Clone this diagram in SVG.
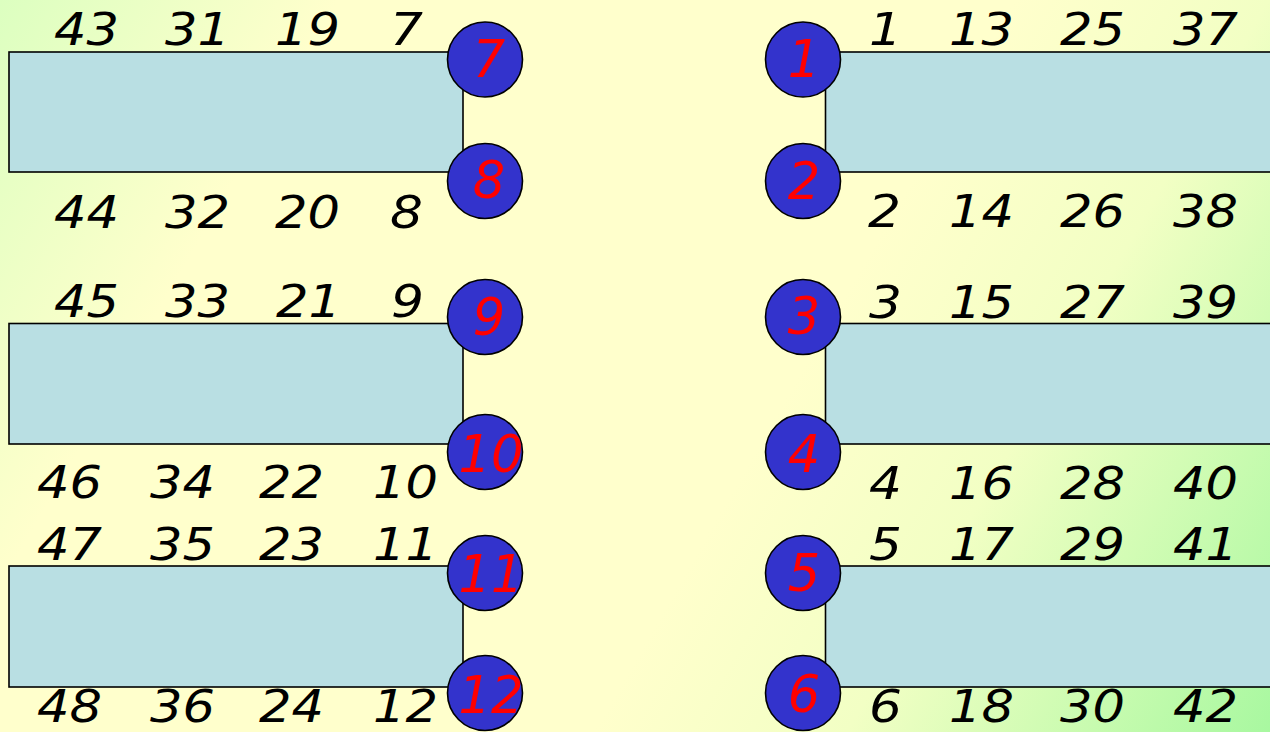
<svg xmlns="http://www.w3.org/2000/svg" width="1270" height="732" viewBox="0 0 1270 732">
<defs>
<linearGradient id="bg" gradientUnits="userSpaceOnUse" x1="0" y1="0" x2="1270" y2="732">
<stop offset="0" stop-color="#dcffc0"/>
<stop offset="0.2" stop-color="#ffffcc"/>
<stop offset="0.6" stop-color="#ffffcc"/>
<stop offset="0.75" stop-color="#f2ffc4"/>
<stop offset="1" stop-color="#a8f8a0"/>
</linearGradient>
<style>
.bar{fill:#b9dfe3;stroke:#000;stroke-width:1.6}
.pin{fill:#3333cc;stroke:#000;stroke-width:1.6}
.num{font-family:"DejaVu Sans","Verdana",sans-serif;font-style:italic;font-size:45px;fill:#000}
.pn{font-family:"DejaVu Sans","Verdana",sans-serif;font-style:italic;font-size:51px;fill:#ff0000;text-anchor:middle}
</style>
</defs>
<rect x="0" y="0" width="1270" height="732" fill="url(#bg)"/>

<g id="bar-left-1">
<rect class="bar" x="9" y="52" width="454" height="120"/>
<text class="num" x="54" y="45" textLength="65" lengthAdjust="spacingAndGlyphs">43</text><text class="num" x="165" y="45" textLength="65" lengthAdjust="spacingAndGlyphs">31</text><text class="num" x="275" y="45" textLength="65" lengthAdjust="spacingAndGlyphs">19</text><text class="num" x="390" y="45" textLength="33" lengthAdjust="spacingAndGlyphs">7</text>
<text class="num" x="54" y="228" textLength="65" lengthAdjust="spacingAndGlyphs">44</text><text class="num" x="165" y="228" textLength="65" lengthAdjust="spacingAndGlyphs">32</text><text class="num" x="275" y="228" textLength="65" lengthAdjust="spacingAndGlyphs">20</text><text class="num" x="390" y="228" textLength="33" lengthAdjust="spacingAndGlyphs">8</text>
</g>
<g id="bar-left-2">
<rect class="bar" x="9" y="323.5" width="454" height="120.5"/>
<text class="num" x="54" y="317" textLength="65" lengthAdjust="spacingAndGlyphs">45</text><text class="num" x="165" y="317" textLength="65" lengthAdjust="spacingAndGlyphs">33</text><text class="num" x="276" y="317" textLength="65" lengthAdjust="spacingAndGlyphs">21</text><text class="num" x="391" y="317" textLength="33" lengthAdjust="spacingAndGlyphs">9</text>
<text class="num" x="37" y="498" textLength="65" lengthAdjust="spacingAndGlyphs">46</text><text class="num" x="150" y="498" textLength="65" lengthAdjust="spacingAndGlyphs">34</text><text class="num" x="259" y="498" textLength="65" lengthAdjust="spacingAndGlyphs">22</text><text class="num" x="373" y="498" textLength="65" lengthAdjust="spacingAndGlyphs">10</text>
</g>
<g id="bar-left-3">
<rect class="bar" x="9" y="566" width="454" height="121"/>
<text class="num" x="37" y="560" textLength="65" lengthAdjust="spacingAndGlyphs">47</text><text class="num" x="150" y="560" textLength="65" lengthAdjust="spacingAndGlyphs">35</text><text class="num" x="259" y="560" textLength="65" lengthAdjust="spacingAndGlyphs">23</text><text class="num" x="373" y="560" textLength="65" lengthAdjust="spacingAndGlyphs">11</text>
<text class="num" x="37" y="722" textLength="65" lengthAdjust="spacingAndGlyphs">48</text><text class="num" x="150" y="722" textLength="65" lengthAdjust="spacingAndGlyphs">36</text><text class="num" x="259" y="722" textLength="65" lengthAdjust="spacingAndGlyphs">24</text><text class="num" x="373" y="722" textLength="65" lengthAdjust="spacingAndGlyphs">12</text>
</g>
<g id="bar-right-1">
<rect class="bar" x="825.5" y="52" width="460" height="120"/>
<text class="num" x="869" y="45" textLength="33" lengthAdjust="spacingAndGlyphs">1</text><text class="num" x="949" y="45" textLength="65" lengthAdjust="spacingAndGlyphs">13</text><text class="num" x="1060" y="45" textLength="65" lengthAdjust="spacingAndGlyphs">25</text><text class="num" x="1173" y="45" textLength="65" lengthAdjust="spacingAndGlyphs">37</text>
<text class="num" x="868" y="227" textLength="33" lengthAdjust="spacingAndGlyphs">2</text><text class="num" x="949" y="227" textLength="65" lengthAdjust="spacingAndGlyphs">14</text><text class="num" x="1060" y="227" textLength="65" lengthAdjust="spacingAndGlyphs">26</text><text class="num" x="1173" y="227" textLength="65" lengthAdjust="spacingAndGlyphs">38</text>
</g>
<g id="bar-right-2">
<rect class="bar" x="825.5" y="323.5" width="460" height="120.5"/>
<text class="num" x="869" y="318" textLength="33" lengthAdjust="spacingAndGlyphs">3</text><text class="num" x="949" y="318" textLength="65" lengthAdjust="spacingAndGlyphs">15</text><text class="num" x="1060" y="318" textLength="65" lengthAdjust="spacingAndGlyphs">27</text><text class="num" x="1173" y="318" textLength="65" lengthAdjust="spacingAndGlyphs">39</text>
<text class="num" x="869" y="499" textLength="33" lengthAdjust="spacingAndGlyphs">4</text><text class="num" x="949" y="499" textLength="65" lengthAdjust="spacingAndGlyphs">16</text><text class="num" x="1060" y="499" textLength="65" lengthAdjust="spacingAndGlyphs">28</text><text class="num" x="1173" y="499" textLength="65" lengthAdjust="spacingAndGlyphs">40</text>
</g>
<g id="bar-right-3">
<rect class="bar" x="825.5" y="566" width="460" height="121"/>
<text class="num" x="869" y="560" textLength="33" lengthAdjust="spacingAndGlyphs">5</text><text class="num" x="949" y="560" textLength="65" lengthAdjust="spacingAndGlyphs">17</text><text class="num" x="1060" y="560" textLength="65" lengthAdjust="spacingAndGlyphs">29</text><text class="num" x="1173" y="560" textLength="65" lengthAdjust="spacingAndGlyphs">41</text>
<text class="num" x="869" y="722" textLength="33" lengthAdjust="spacingAndGlyphs">6</text><text class="num" x="949" y="722" textLength="65" lengthAdjust="spacingAndGlyphs">18</text><text class="num" x="1060" y="722" textLength="65" lengthAdjust="spacingAndGlyphs">30</text><text class="num" x="1173" y="722" textLength="65" lengthAdjust="spacingAndGlyphs">42</text>
</g>

<g id="pin-7"><circle class="pin" cx="485" cy="59.5" r="37.5"/><text class="pn" x="489" y="77">7</text></g>
<g id="pin-8"><circle class="pin" cx="485" cy="181" r="37.5"/><text class="pn" x="489" y="198">8</text></g>
<g id="pin-9"><circle class="pin" cx="485" cy="317" r="37.5"/><text class="pn" x="489" y="335">9</text></g>
<g id="pin-10"><circle class="pin" cx="485" cy="452" r="37.5"/><text class="pn" x="491" y="472">10</text></g>
<g id="pin-11"><circle class="pin" cx="485" cy="573" r="37.5"/><text class="pn" x="491" y="592">11</text></g>
<g id="pin-12"><circle class="pin" cx="485" cy="693" r="37.5"/><text class="pn" x="491" y="713">12</text></g>
<g id="pin-1"><circle class="pin" cx="803" cy="59.5" r="37.5"/><text class="pn" x="804" y="77">1</text></g>
<g id="pin-2"><circle class="pin" cx="803" cy="181" r="37.5"/><text class="pn" x="804" y="199">2</text></g>
<g id="pin-3"><circle class="pin" cx="803" cy="317" r="37.5"/><text class="pn" x="804" y="334">3</text></g>
<g id="pin-4"><circle class="pin" cx="803" cy="452" r="37.5"/><text class="pn" x="804" y="472">4</text></g>
<g id="pin-5"><circle class="pin" cx="803" cy="573" r="37.5"/><text class="pn" x="804" y="591">5</text></g>
<g id="pin-6"><circle class="pin" cx="803" cy="693" r="37.5"/><text class="pn" x="804" y="712">6</text></g>
</svg>
